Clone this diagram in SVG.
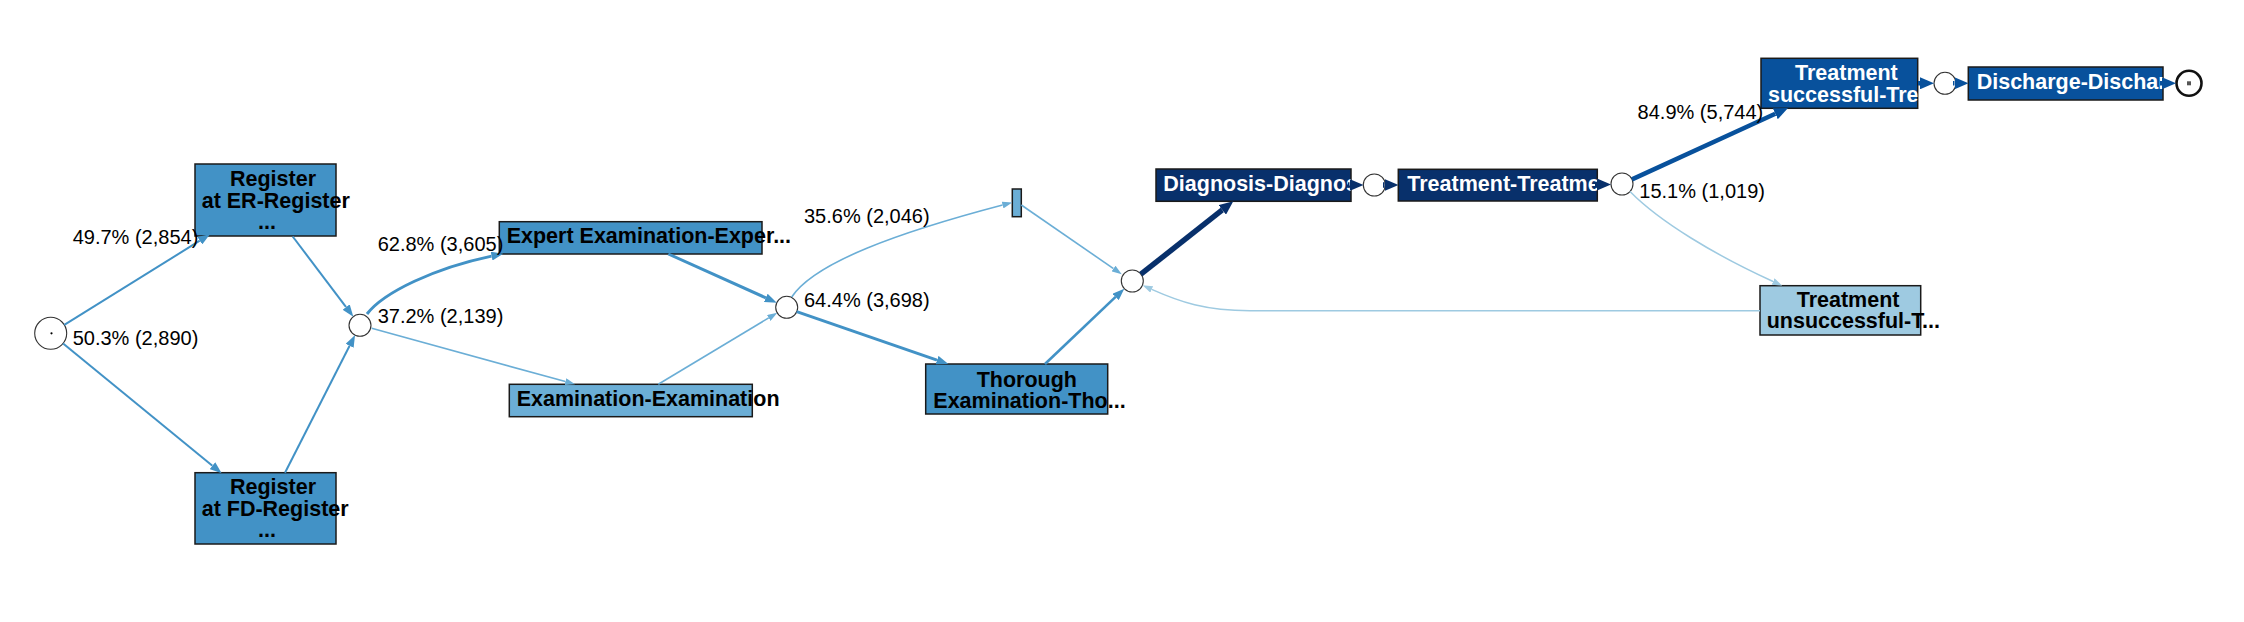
<svg xmlns="http://www.w3.org/2000/svg" width="2244" height="622" viewBox="0 0 2244 622">
<style>
  .box { stroke: #1a1a1a; stroke-width: 1.5; }
  .circ { fill: #ffffff; stroke: #333333; stroke-width: 1.1; }
  .nl { font-family: "Liberation Sans", Arial, Helvetica, sans-serif; font-size: 21.5px; font-weight: bold; fill: #000000; }
  .nlw { font-family: "Liberation Sans", Arial, Helvetica, sans-serif; font-size: 21.5px; font-weight: bold; fill: #ffffff; }
  .el { font-family: "Liberation Sans", Arial, Helvetica, sans-serif; font-size: 20px; fill: #000000; }
  .edge { fill: none; stroke-linecap: butt; }
  .c1 { stroke: #4292c6; }
  .c2 { stroke: #6baed6; }
  .c3 { stroke: #08306b; }
  .c4 { stroke: #08519c; }
  .c5 { stroke: #9ecae1; }
</style>
<defs>
  <marker id="m1" markerUnits="userSpaceOnUse" markerWidth="12" markerHeight="9" refX="0" refY="4.5" orient="auto"><path d="M0,0 L12,4.5 L0,9 z" fill="#4292c6"/></marker>
  <marker id="m2" markerUnits="userSpaceOnUse" markerWidth="10" markerHeight="7" refX="0" refY="3.5" orient="auto"><path d="M0,0 L10,3.5 L0,7 z" fill="#6baed6"/></marker>
  <marker id="m3" markerUnits="userSpaceOnUse" markerWidth="14" markerHeight="12" refX="0" refY="6" orient="auto"><path d="M0,0 L14,6 L0,12 z" fill="#08306b"/></marker>
  <marker id="m4" markerUnits="userSpaceOnUse" markerWidth="14" markerHeight="12" refX="0" refY="6" orient="auto"><path d="M0,0 L14,6 L0,12 z" fill="#08519c"/></marker>
  <marker id="m5" markerUnits="userSpaceOnUse" markerWidth="10" markerHeight="7" refX="0" refY="3.5" orient="auto"><path d="M0,0 L10,3.5 L0,7 z" fill="#9ecae1"/></marker>
  <clipPath id="cpDiag"><rect x="1156" y="169" width="195" height="32.3"/></clipPath>
  <clipPath id="cpTreat"><rect x="1398.3" y="169.3" width="199" height="31.7"/></clipPath>
  <clipPath id="cpSucc"><rect x="1761" y="58.3" width="156.7" height="50"/></clipPath>
  <clipPath id="cpDisch"><rect x="1968.3" y="67" width="194.7" height="33"/></clipPath>
</defs>

<g id="nodes">
  <g id="start">
    <circle class="circ" cx="50.7" cy="333.3" r="16"/>
    <circle cx="51.5" cy="333.3" r="1.1" fill="#000000"/>
  </g>
  <g id="register-er">
    <rect class="box" x="195" y="164" width="141" height="72" fill="#4292c6"/>
    <text class="nl" x="230" y="186">Register</text>
    <text class="nl" x="201.7" y="207.5">at ER-Register</text>
    <text class="nl" x="258" y="229">...</text>
  </g>
  <g id="register-fd">
    <rect class="box" x="195" y="472.7" width="141" height="71.3" fill="#4292c6"/>
    <text class="nl" x="230" y="494">Register</text>
    <text class="nl" x="201.7" y="515.5">at FD-Register</text>
    <text class="nl" x="258" y="537">...</text>
  </g>
  <g id="join1">
    <circle class="circ" cx="360" cy="325.3" r="11"/>
  </g>
  <g id="expert-examination">
    <rect class="box" x="499.3" y="221.7" width="262.7" height="32.3" fill="#4292c6"/>
    <text class="nl" x="506.7" y="243.3">Expert Examination-Exper...</text>
  </g>
  <g id="examination">
    <rect class="box" x="509.3" y="384.3" width="243" height="32.4" fill="#6baed6"/>
    <text class="nl" x="516.7" y="406">Examination-Examination</text>
  </g>
  <g id="join2">
    <circle class="circ" cx="786.7" cy="307.3" r="11"/>
  </g>
  <g id="small-node">
    <rect class="box" x="1012.3" y="189" width="9" height="27.7" fill="#6baed6"/>
  </g>
  <g id="thorough-examination">
    <rect class="box" x="925.7" y="364" width="182" height="50" fill="#4292c6"/>
    <text class="nl" x="976.7" y="386.7">Thorough</text>
    <text class="nl" x="933.3" y="407.5">Examination-Tho...</text>
  </g>
  <g id="join3">
    <circle class="circ" cx="1132.3" cy="281" r="11"/>
  </g>
  <g id="diagnosis">
    <rect class="box" x="1156" y="169" width="195" height="32.3" fill="#08306b"/>
    <text class="nlw" x="1163.3" y="190.7" clip-path="url(#cpDiag)">Diagnosis-Diagnos</text>
  </g>
  <g id="join4">
    <circle class="circ" cx="1374.3" cy="185" r="11"/>
  </g>
  <g id="treatment">
    <rect class="box" x="1398.3" y="169.3" width="199" height="31.7" fill="#08306b"/>
    <text class="nlw" x="1407.3" y="190.5" clip-path="url(#cpTreat)">Treatment-Treatme</text>
  </g>
  <g id="join5">
    <circle class="circ" cx="1622" cy="184" r="11"/>
  </g>
  <g id="treatment-successful">
    <rect class="box" x="1761" y="58.3" width="156.7" height="50" fill="#08519c"/>
    <text class="nlw" x="1795" y="80">Treatment</text>
    <text class="nlw" x="1768" y="101.5" clip-path="url(#cpSucc)">successful-Tre</text>
  </g>
  <g id="treatment-unsuccessful">
    <rect class="box" x="1760" y="285.7" width="160.7" height="49.3" fill="#9ecae1"/>
    <text class="nl" x="1796.7" y="307.3">Treatment</text>
    <text class="nl" x="1766.7" y="328.3">unsuccessful-T...</text>
  </g>
  <g id="join6">
    <circle class="circ" cx="1945" cy="83.3" r="11"/>
  </g>
  <g id="discharge">
    <rect class="box" x="1968.3" y="67" width="194.7" height="33" fill="#08519c"/>
    <text class="nlw" x="1976.7" y="89" clip-path="url(#cpDisch)">Discharge-Dischar</text>
  </g>
  <g id="end">
    <circle cx="2189" cy="83.3" r="12.5" fill="#ffffff" stroke="#111111" stroke-width="2.6"/>
    <rect x="2187" y="81.3" width="4" height="4" fill="#555555"/>
  </g>
</g>

<g id="connectors">
  <path class="edge c1" stroke-width="2" marker-end="url(#m1)" d="M64.3,324.8 L199.8,240.7"/>
  <path class="edge c1" stroke-width="2" marker-end="url(#m1)" d="M63.1,343.4 L212.4,465.7"/>
  <path class="edge c1" stroke-width="2" marker-end="url(#m1)" d="M292.7,236.5 L346.1,307.1"/>
  <path class="edge c1" stroke-width="2" marker-end="url(#m1)" d="M285,472.7 L349.6,345.8"/>
  <path class="edge c1" stroke-width="3" marker-end="url(#m1)" d="M367,314 C384,292 435,268 491.6,256.1"/>
  <path class="edge c2" stroke-width="1.6" marker-end="url(#m2)" d="M371.7,328.3 L565.4,381.6"/>
  <path class="edge c1" stroke-width="3" marker-end="url(#m1)" d="M668.3,254 L765.8,297.8"/>
  <path class="edge c2" stroke-width="1.6" marker-end="url(#m2)" d="M658.3,384.3 L768.7,317.9"/>
  <path class="edge c2" stroke-width="1.6" marker-end="url(#m2)" d="M791.7,297 C815,262 900,232 1002.6,205"/>
  <path class="edge c1" stroke-width="3" marker-end="url(#m1)" d="M796.7,311.7 L937,360.1"/>
  <path class="edge c2" stroke-width="1.6" marker-end="url(#m2)" d="M1021.3,205 L1113.5,268.6"/>
  <path class="edge c1" stroke-width="2.6" marker-end="url(#m1)" d="M1045,364 L1115.6,296.9"/>
  <path class="edge c3" stroke-width="5.5" marker-end="url(#m3)" d="M1140.9,274.2 L1222.3,209.9"/>
  <path class="edge c3" stroke-width="5.5" marker-end="url(#m3)" d="M1348,185 L1349.5,185"/>
  <path class="edge c3" stroke-width="5.5" marker-end="url(#m3)" d="M1383,185 L1384.5,185"/>
  <path class="edge c3" stroke-width="5.5" marker-end="url(#m3)" d="M1595,184.5 L1597,184.5"/>
  <path class="edge c4" stroke-width="4.5" marker-end="url(#m4)" d="M1632,179.4 L1775.3,113.8"/>
  <path class="edge c5" stroke-width="1.5" marker-end="url(#m5)" d="M1630,191.5 C1660,222 1715,255 1773.1,281.5"/>
  <path class="edge c5" stroke-width="1.5" marker-end="url(#m5)" d="M1760,310.7 L1250,310.7 C1205,310.7 1180,302 1151.7,289.4"/>
  <path class="edge c4" stroke-width="4.5" marker-end="url(#m4)" d="M1918,83.3 L1920,83.3"/>
  <path class="edge c4" stroke-width="4.5" marker-end="url(#m4)" d="M1953,83.3 L1954.5,83.3"/>
  <path class="edge c4" stroke-width="4.5" marker-end="url(#m4)" d="M2160,83.3 L2162,83.3"/>
</g>

<g id="edge-labels">
  <text class="el" x="72.7" y="244">49.7% (2,854)</text>
  <text class="el" x="72.7" y="345">50.3% (2,890)</text>
  <text class="el" x="377.7" y="251">62.8% (3,605)</text>
  <text class="el" x="377.7" y="323">37.2% (2,139)</text>
  <text class="el" x="804" y="223.3">35.6% (2,046)</text>
  <text class="el" x="804" y="306.7">64.4% (3,698)</text>
  <text class="el" x="1637.6" y="119">84.9% (5,744)</text>
  <text class="el" x="1639.3" y="198.3">15.1% (1,019)</text>
</g>
</svg>
